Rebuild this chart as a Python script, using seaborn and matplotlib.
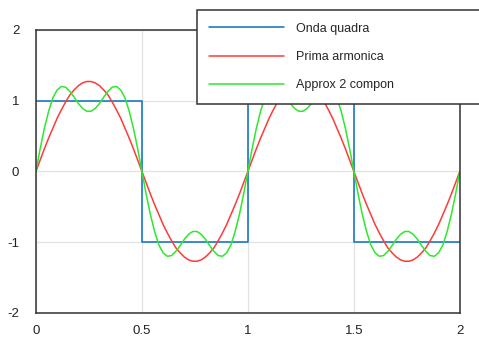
import numpy as np
import matplotlib
matplotlib.use("Agg")
import matplotlib.pyplot as plt
import seaborn as sns

# sample grid, step 0.02 over [0, 2]
x = np.round(np.arange(101) * 0.02, 2)

# square wave breakpoints
sq_x = [0, 0.5, 0.5, 1, 1, 1.5, 1.5, 2]
sq_y = [1, 1, -1, -1, 1, 1, -1, -1]

# first harmonic
prima = [0, .16, .32, .47, .61, .75, .87, .98, 1.08, 1.15, 1.21, 1.25, 1.27,
         1.27, 1.25, 1.21, 1.15, 1.08, .98, .87, .75, .61, .47, .32, .16,
         0, -.16, -.32, -.47, -.61, -.75, -.87, -.98, -1.08, -1.15, -1.21, -1.25, -1.27,
         -1.27, -1.25, -1.21, -1.15, -1.08, -.98, -.87, -.75, -.61, -.47, -.32, -.16,
         0, .16, .32, .47, .61, .75, .87, .98, 1.08, 1.15, 1.21, 1.25, 1.27,
         1.27, 1.25, 1.21, 1.15, 1.08, .98, .87, .75, .61, .47, .32, .16,
         0, -.16, -.32, -.47, -.61, -.75, -.87, -.98, -1.08, -1.15, -1.21, -1.25, -1.27,
         -1.27, -1.25, -1.21, -1.15, -1.08, -.98, -.87, -.75, -.61, -.47, -.32, -.16,
         0]

# sum of two components
approx2 = [0, .32, .61, .85, 1.04, 1.15, 1.20, 1.19, 1.13, 1.05, .96, .89, .85,
           .85, .89, .96, 1.05, 1.13, 1.19, 1.20, 1.15, 1.04, .85, .61, .32,
           0, -.32, -.61, -.85, -1.04, -1.15, -1.20, -1.19, -1.13, -1.05, -.96, -.89, -.85,
           -.85, -.89, -.96, -1.05, -1.13, -1.19, -1.20, -1.15, -1.04, -.85, -.61, -.32,
           0, .32, .61, .85, 1.04, 1.15, 1.20, 1.19, 1.13, 1.05, .96, .89, .85,
           .85, .89, .96, 1.05, 1.13, 1.19, 1.20, 1.15, 1.04, .85, .61, .32,
           0, -.32, -.61, -.85, -1.04, -1.15, -1.20, -1.19, -1.13, -1.05, -.96, -.89, -.85,
           -.85, -.89, -.96, -1.05, -1.13, -1.19, -1.20, -1.15, -1.04, -.85, -.61, -.32,
           0]

labels = ["Onda quadra", "Prima armonica", "Approx 2 compon"]
xticks = [0, 0.5, 1, 1.5, 2]
xticklabels = ["0", "0.5", "1", "1.5", "2"]
yticks = [-2, -1, 0, 1, 2]
yticklabels = ["-2", "-1", "0", "1", "2"]

sns.set_theme(style="white")
plt.rcParams["font.family"] = ["Liberation Sans", "DejaVu Sans"]
plt.rcParams["axes.unicode_minus"] = False

fig = plt.figure(figsize=(4.79, 3.39), dpi=100)
ax = fig.add_axes([0.075, 0.077, 0.885, 0.835])

sns.lineplot(x=sq_x, y=sq_y, ax=ax, color="#0a6fbf", lw=1.1,
             estimator=None, sort=False, label=labels[0])
sns.lineplot(x=x, y=prima, ax=ax, color="#ff3a3a", lw=1.1,
             estimator=None, sort=False, label=labels[1])
sns.lineplot(x=x, y=approx2, ax=ax, color="#2ee82e", lw=1.1,
             estimator=None, sort=False, label=labels[2])

ax.set_xlim(0, 2)
ax.set_ylim(-2, 2)
ax.set_xticks(xticks)
ax.set_xticklabels(xticklabels)
ax.set_yticks(yticks)
ax.set_yticklabels(yticklabels)
ax.grid(True, color="#e2e2e2", lw=0.9)
ax.set_axisbelow(True)
ax.tick_params(direction="in", length=3, width=1, colors="#333333",
               labelsize=9.5, labelcolor="#222222")
ax.tick_params(axis="x", pad=9)
ax.tick_params(axis="y", pad=12)
for s in ax.spines.values():
    s.set_color("#333333")
    s.set_linewidth(1.1)

handles, labs = ax.get_legend_handles_labels()
ax.get_legend().remove()
leg = fig.legend(handles, labs, loc="upper left",
                 bbox_to_anchor=(0.411, 0.97, 0.65, 0.0),
                 bbox_transform=fig.transFigure, mode="expand",
                 fontsize=9, handlelength=6.0, handletextpad=0.9,
                 borderpad=1.0, labelspacing=1.3, borderaxespad=0,
                 fancybox=False, framealpha=1, edgecolor="#333333")
leg.get_frame().set_linewidth(1.1)

fig.savefig("out.png", dpi=100)
